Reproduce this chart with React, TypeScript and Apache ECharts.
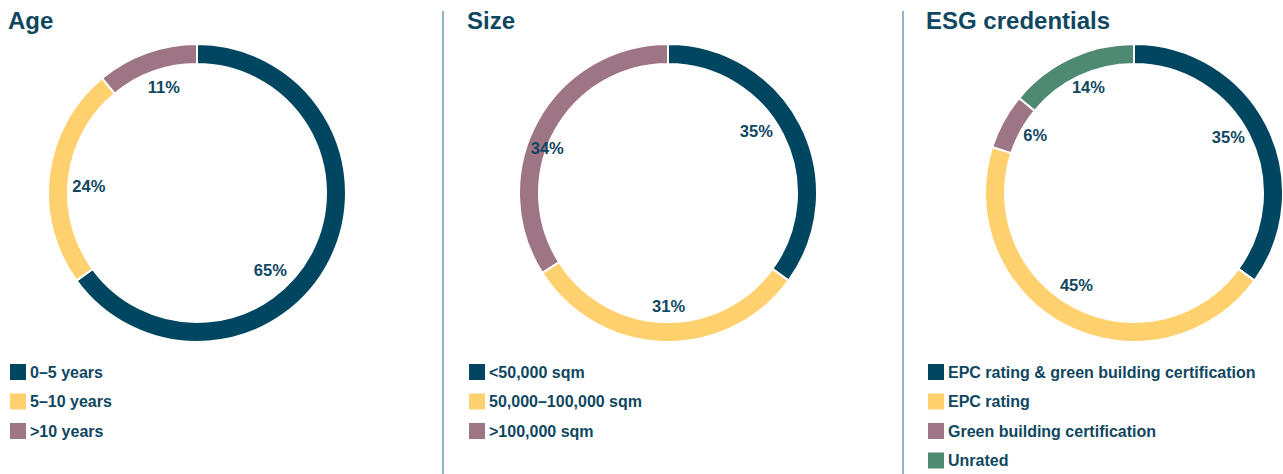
import React, { useEffect, useRef } from "react";
import * as echarts from "echarts";

const ageCategories = ["0–5 years", "5–10 years", ">10 years"];
const ageValues = [65, 24, 11];
const sizeCategories = ["<50,000 sqm", "50,000–100,000 sqm", ">100,000 sqm"];
const sizeValues = [35, 31, 34];
const esgCategories = [
  "EPC rating & green building certification",
  "EPC rating",
  "Green building certification",
  "Unrated",
];
const esgValues = [35, 45, 6, 14];
const panelTitles = ["Age", "Size", "ESG credentials"];

const DARK = "#004660";
const YELLOW = "#ffd06e";
const MAUVE = "#9e7584";
const GREEN = "#4e8a71";
const TEXT = "#0f4761";
const FONT = "'Liberation Sans', Arial, sans-serif";

export default function App() {
  const ref = useRef<HTMLDivElement>(null);
  useEffect(() => {
    document.body.style.margin = "0";
    if (!ref.current) return;
    const chart = echarts.init(ref.current, null, { renderer: "svg" });

    const panels = [
      { cats: ageCategories, vals: ageValues, colors: [DARK, YELLOW, MAUVE], cx: 197, left: 8,
        nudge: [[-22, 28], [-2, 6], [3, -5]] },
      { cats: sizeCategories, vals: sizeValues, colors: [DARK, YELLOW, MAUVE], cx: 668, left: 467,
        nudge: [[-7, -13], [4, 6], [-27, 7]] },
      { cats: esgCategories, vals: esgValues, colors: [DARK, YELLOW, MAUVE, GREEN], cx: 1134, left: 926,
        nudge: [[-1, -7], [-9, -3], [-5, -6], [0, -9]] },
    ];

    const series: any[] = [];
    panels.forEach((p, i) => {
      series.push({
        type: "pie",
        name: panelTitles[i],
        center: [p.cx, 193],
        radius: [129, 149],
        startAngle: 90,
        clockwise: true,
        silent: true,
        label: { show: false },
        labelLine: { show: false },
        itemStyle: { borderColor: "#ffffff", borderWidth: 2 },
        data: p.cats.map((c, k) => ({ name: c, value: p.vals[k], itemStyle: { color: p.colors[k] } })),
      });
      series.push({
        type: "pie",
        name: panelTitles[i] + " labels",
        center: [p.cx, 193],
        radius: [60, 148],
        startAngle: 90,
        clockwise: true,
        silent: true,
        itemStyle: { color: "rgba(0,0,0,0)", borderWidth: 0 },
        labelLine: { show: false },
        label: {
          show: true,
          position: "inside",
          formatter: "{c}%",
          color: TEXT,
          fontFamily: FONT,
          fontSize: 16.5,
          fontWeight: "bold",
        },
        labelLayout: (params: any) => {
          const n = p.nudge[params.dataIndex] || [0, 0];
          return { dx: n[0], dy: n[1] };
        },
        data: p.cats.map((c, k) => ({ name: c + " #label", value: p.vals[k] })),
      });
    });

    chart.setOption({
      animation: false,
      title: panels.map((p, i) => ({
        text: panelTitles[i],
        left: p.left,
        top: 8,
        padding: 0,
        textStyle: { color: TEXT, fontFamily: FONT, fontSize: 24, fontWeight: "bold" },
      })),
      legend: panels.map((p) => ({
        data: p.cats,
        orient: "vertical",
        left: p.left,
        top: 362,
        height: 112,
        padding: 0,
        icon: "rect",
        itemWidth: 18,
        itemHeight: 18,
        itemGap: 9.5,
        selectedMode: false,
        textStyle: { color: TEXT, fontFamily: FONT, fontSize: 16, fontWeight: "bold", padding: [0, 0, 0, -2] },
      })),
      graphic: [
        { type: "line", shape: { x1: 443, y1: 11, x2: 443, y2: 474 }, style: { stroke: "#6f9ab0", lineWidth: 1.5 } },
        { type: "line", shape: { x1: 903, y1: 11, x2: 903, y2: 474 }, style: { stroke: "#6f9ab0", lineWidth: 1.5 } },
      ],
      series,
    });
    return () => chart.dispose();
  }, []);
  return <div ref={ref} style={{ width: 1283, height: 474 }} />;
}
